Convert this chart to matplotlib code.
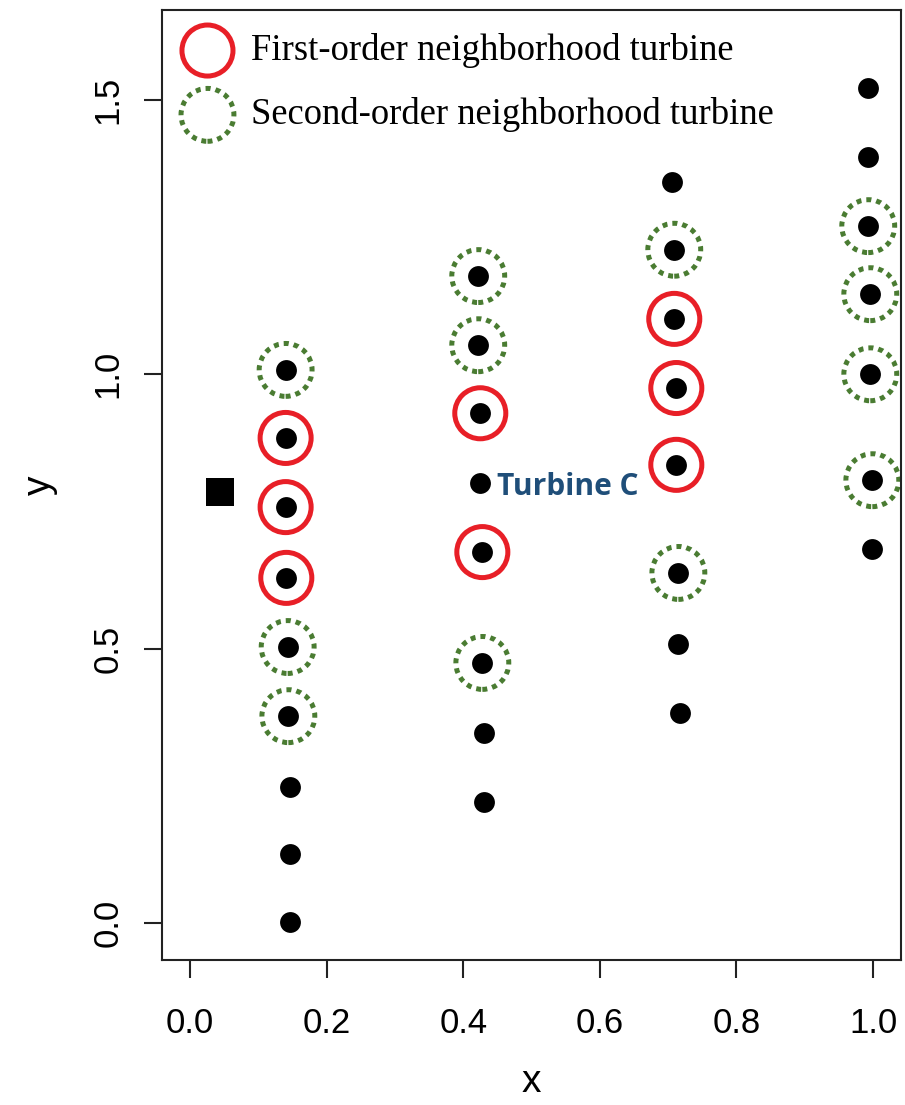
import matplotlib
matplotlib.use("Agg")
import matplotlib.pyplot as plt

# turbine positions, one list per column of turbines
col1_x = [0.140, 0.140, 0.140, 0.141, 0.143, 0.144, 0.146, 0.147, 0.147]
col1_y = [1.008, 0.884, 0.758, 0.629, 0.503, 0.377, 0.248, 0.126, 0.002]
col2_x = [0.422, 0.422, 0.425, 0.425, 0.428, 0.428, 0.431, 0.431]
col2_y = [1.179, 1.053, 0.929, 0.802, 0.676, 0.474, 0.346, 0.221]
col3_x = [0.706, 0.709, 0.709, 0.712, 0.712, 0.715, 0.715, 0.718]
col3_y = [1.350, 1.227, 1.101, 0.975, 0.835, 0.638, 0.508, 0.383]
col4_x = [0.993, 0.993, 0.993, 0.996, 0.996, 0.999, 0.999]
col4_y = [1.522, 1.396, 1.270, 1.146, 1.000, 0.807, 0.682]

# the square marker (reference point)
sq_x = [0.044]
sq_y = [0.785]

# neighbourhood turbines
first_x = [0.140, 0.140, 0.141, 0.425, 0.428, 0.709, 0.712, 0.712]
first_y = [0.884, 0.758, 0.629, 0.929, 0.676, 1.101, 0.975, 0.835]
second_x = [0.140, 0.143, 0.144, 0.422, 0.422, 0.428, 0.709, 0.715,
            0.993, 0.996, 0.996, 0.999]
second_y = [1.008, 0.503, 0.377, 1.179, 1.053, 0.474, 1.227, 0.638,
            1.270, 1.146, 1.000, 0.807]

turbine_c = (0.425, 0.802)

all_x = col1_x + col2_x + col3_x + col4_x
all_y = col1_y + col2_y + col3_y + col4_y

red = '#e81f27'
green = '#4a7c32'

fig = plt.figure(figsize=(9.05, 11.05), dpi=100)
ax = fig.add_axes([0.179, 0.1312, 0.8166, 0.8598])

ax.scatter(all_x, all_y, s=225, color='black', zorder=3, linewidths=0)
ax.scatter(sq_x, sq_y, s=400, marker='s', color='black', zorder=3, linewidths=0)

h1 = ax.scatter(first_x, first_y, s=1350, facecolors='none', edgecolors=red,
                linewidths=3.6, zorder=2, label='First-order neighborhood turbine')
h2 = ax.scatter(second_x, second_y, s=1450, facecolors='none', edgecolors=green,
                linewidths=3.6, linestyles=[(0, (1.0, 1.0))], zorder=2,
                label='Second-order neighborhood turbine')

ax.text(turbine_c[0] + 0.025, turbine_c[1] - 0.007, 'Turbine C', color='#1f4e79',
        fontsize=21.5, fontweight='bold', family='Open Sans', va='center', ha='left')

leg = ax.legend(handles=[h1, h2], loc='upper left', frameon=False, scatterpoints=1,
                prop={'family': 'Liberation Serif', 'size': 26.4},
                handletextpad=0.4, labelspacing=0.8, borderaxespad=0.0,
                handlelength=1.6, bbox_to_anchor=(0.002, 0.991))

ax.set_xlim(-0.041, 1.041)
ax.set_ylim(-0.0674, 1.664)
ax.set_xticks([0.0, 0.2, 0.4, 0.6, 0.8, 1.0])
ax.set_yticks([0.0, 0.5, 1.0, 1.5])
ax.set_xticklabels(['0.0', '0.2', '0.4', '0.6', '0.8', '1.0'], family='Liberation Sans', fontsize=25)
ax.set_yticklabels(['0.0', '0.5', '1.0', '1.5'], family='Liberation Sans', fontsize=25,
                   rotation=90, va='center')
ax.tick_params(length=13, width=1.5, color='#222222')
ax.tick_params(axis='x', pad=21)
ax.tick_params(axis='y', pad=14)
for s in ax.spines.values():
    s.set_linewidth(1.5)
    s.set_color('#222222')

ax.set_xlabel('x', family='Liberation Sans', fontsize=28, labelpad=17)
ax.set_ylabel('y', family='Liberation Sans', fontsize=28, labelpad=24)

fig.savefig('out.png', dpi=100)
